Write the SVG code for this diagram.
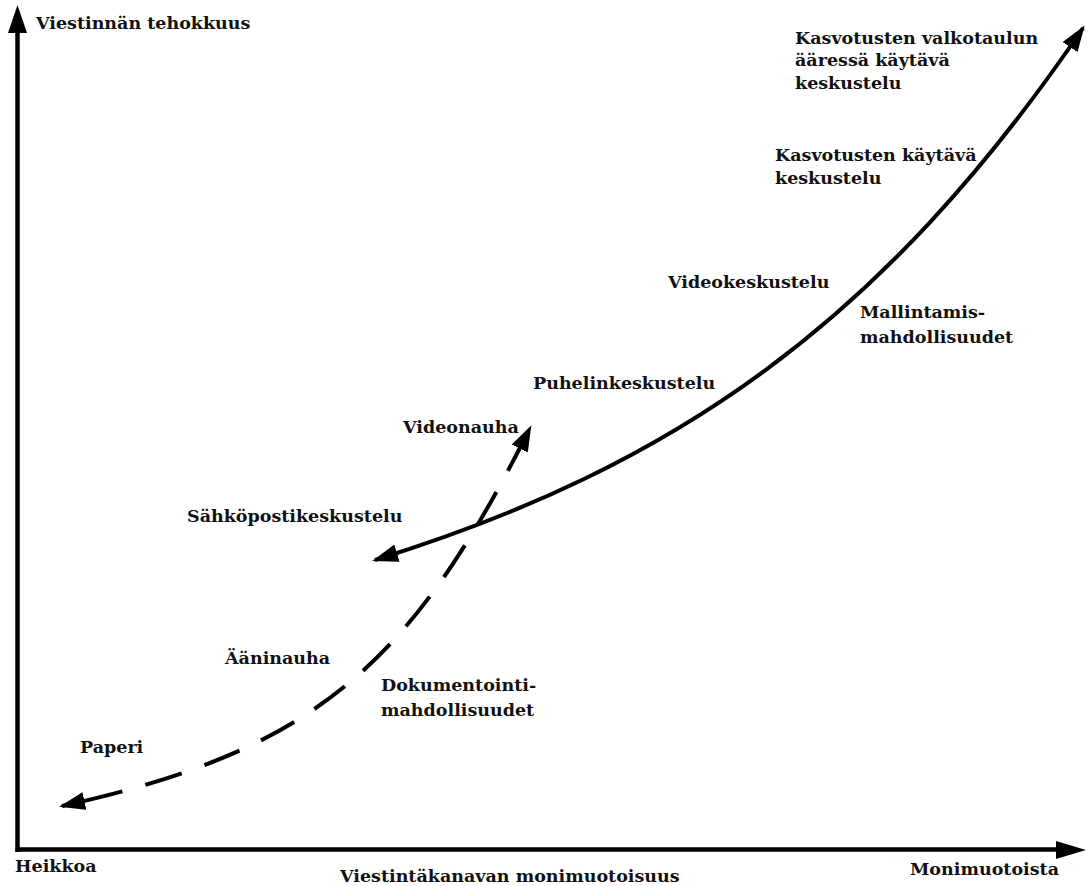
<svg xmlns="http://www.w3.org/2000/svg" width="1088" height="886" viewBox="0 0 1088 886">
<style>
text{font-family:"DejaVu Serif","Liberation Serif",serif;font-weight:bold;font-size:17.5px;fill:#111}
.ax{stroke:#000;stroke-width:4.5;fill:none}
.cv{stroke:#000;stroke-width:4;fill:none}
.ds{stroke-dasharray:62 24 38 24 38 24 38 24 38 24 38 24 38 24 38 24 38 24 38 24 38 24 38 24 38 60}
</style>
<defs>
<marker id="ah" markerUnits="userSpaceOnUse" viewBox="0 0 26 18" markerWidth="26" markerHeight="18" refX="23" refY="9" orient="auto-start-reverse">
<path d="M0,0 L26,9 L0,18 z" fill="#000"/>
</marker>
</defs>
<g id="axes">
<line class="ax" x1="17.5" y1="852" x2="17.5" y2="28"/>
<polygon points="8,33 17.5,5 27,33" fill="#000"/>
<line class="ax" x1="15.5" y1="849.5" x2="1060" y2="849.5"/>
<polygon points="1056,841 1086,850 1056,859" fill="#000"/>
</g>
<g id="connectors">
<path id="solid-curve" class="cv" d="M375,560 C675,467 883,322 1083,28" marker-start="url(#ah)" marker-end="url(#ah)"/>
<path id="dashed-curve" class="cv ds" d="M62,806 C312,751 410,668 530,428" marker-start="url(#ah)" marker-end="url(#ah)"/>
</g>
<g id="labels">
<text x="36" y="29">Viestinnän tehokkuus</text>
<g id="n-whiteboard"><text x="795" y="44">Kasvotusten valkotaulun</text><text x="795" y="66">ääressä käytävä</text><text x="795" y="89">keskustelu</text></g>
<g id="n-facetoface"><text x="775" y="161">Kasvotusten käytävä</text><text x="775" y="184">keskustelu</text></g>
<g id="n-video"><text x="668" y="288">Videokeskustelu</text></g>
<g id="n-modelling"><text x="860" y="318">Mallintamis-</text><text x="860" y="343">mahdollisuudet</text></g>
<g id="n-phone"><text x="533" y="389">Puhelinkeskustelu</text></g>
<g id="n-videotape"><text x="403" y="433">Videonauha</text></g>
<g id="n-email"><text x="187" y="522">Sähköpostikeskustelu</text></g>
<g id="n-audiotape"><text x="225" y="664">Ääninauha</text></g>
<g id="n-documentation"><text x="381" y="691">Dokumentointi-</text><text x="381" y="716">mahdollisuudet</text></g>
<g id="n-paper"><text x="80" y="753">Paperi</text></g>
<text x="15" y="872">Heikkoa</text>
<text x="340" y="882">Viestintäkanavan monimuotoisuus</text>
<text x="910" y="875">Monimuotoista</text>
</g>
</svg>
